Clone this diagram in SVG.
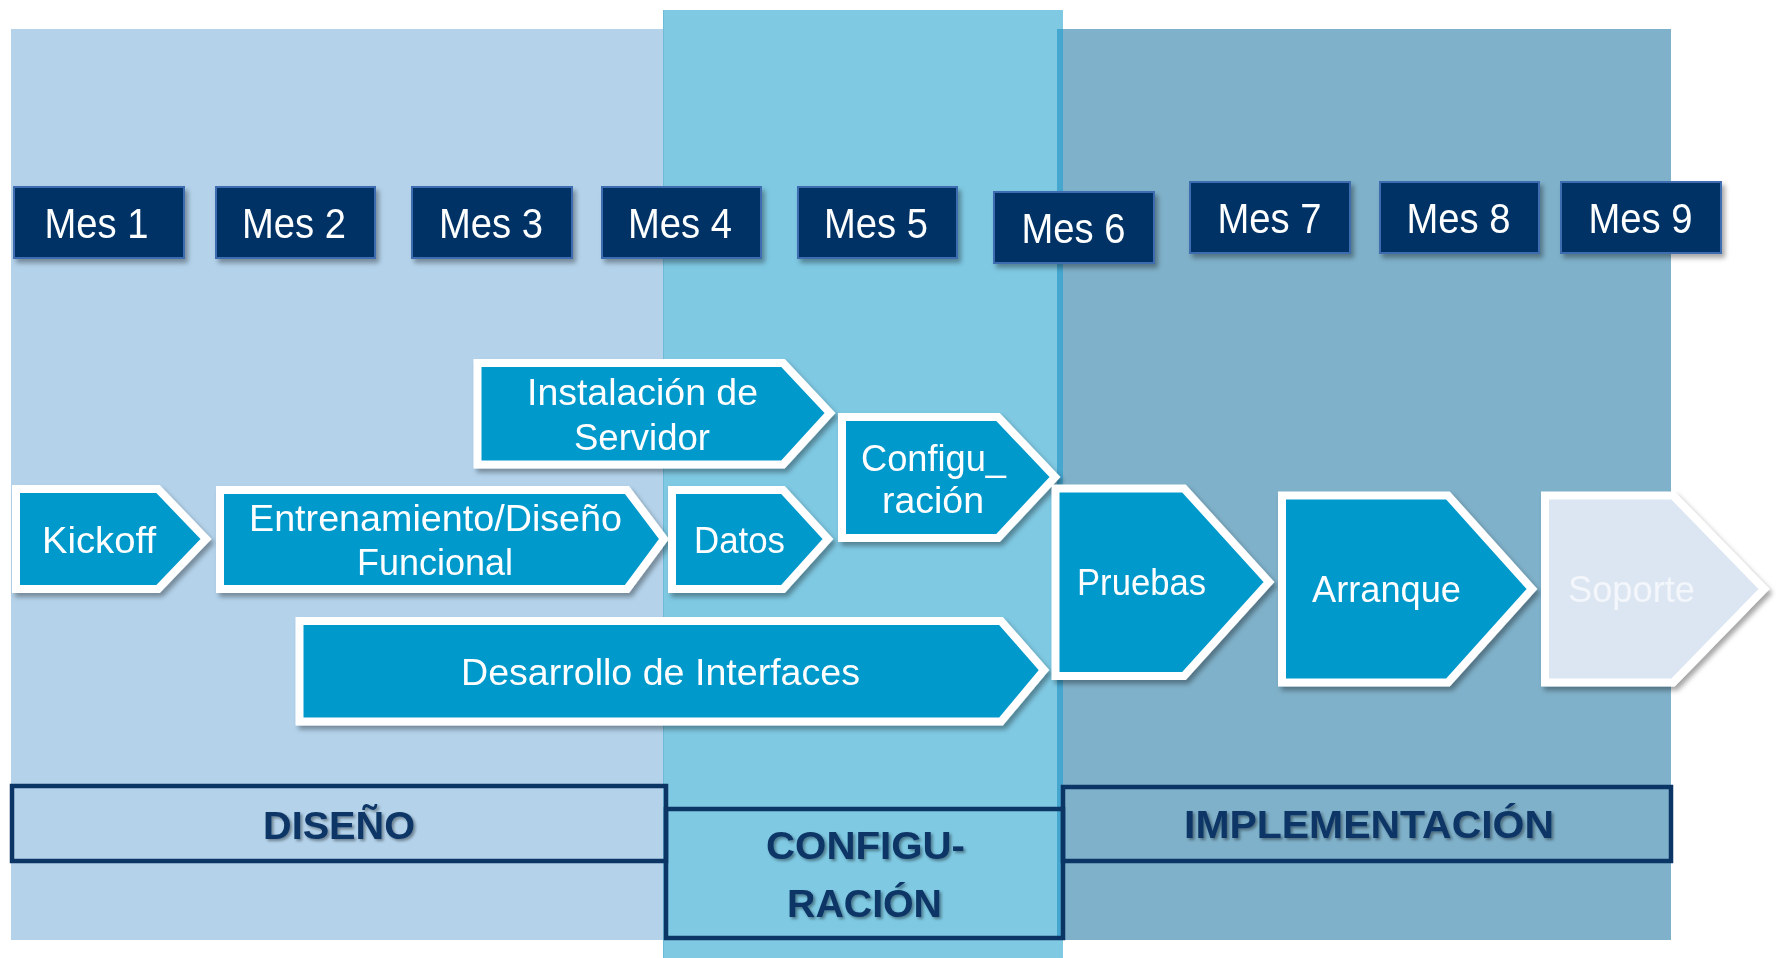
<svg xmlns="http://www.w3.org/2000/svg" width="1776" height="958" viewBox="0 0 1776 958">
<style>
.mes rect{fill:#003366;stroke:#3d6db0;stroke-width:2}
.mes text{font-family:"Liberation Sans",Arial,sans-serif;font-size:43px;fill:#ffffff;text-anchor:middle}
.arr polygon{fill:#0099cc;stroke:#ffffff;stroke-width:8;stroke-linejoin:miter}
.arr text{font-family:"Liberation Sans",Arial,sans-serif;font-size:36px;fill:#ffffff;text-anchor:middle}
.ph rect{fill:none;stroke:#0b3565;stroke-width:4.5}
.ph text{font-family:"Liberation Sans",Arial,sans-serif;font-weight:bold;font-size:39px;fill:#0b3565;text-anchor:middle}
</style>
<defs>
<filter id="sh" x="-10%" y="-10%" width="125%" height="130%">
<feDropShadow dx="3" dy="4" stdDeviation="2.5" flood-color="#000000" flood-opacity="0.35"/>
</filter>
<filter id="tsh" x="-10%" y="-20%" width="125%" height="150%">
<feDropShadow dx="2" dy="2" stdDeviation="1.5" flood-color="#000000" flood-opacity="0.4"/>
</filter>
</defs>
<rect width="1776" height="958" fill="#ffffff"/>
<g id="panels">
<rect x="11" y="29" width="652" height="911" fill="#b4d3eb"/>
<rect x="663" y="10" width="400" height="948" fill="#7fc9e3"/>
<line x1="663.5" y1="10" x2="663.5" y2="958" stroke="#6bbbd9" stroke-width="1"/>
<rect x="1057" y="29" width="614" height="911" fill="#7fb1ca"/>
<rect x="1057" y="29" width="6" height="911" fill="#45a6cf"/>
</g>
<g id="months">
<g id="mes1" class="mes" filter="url(#sh)"><rect x="14" y="187" width="170" height="71"/><text x="96.5" y="238" textLength="104" lengthAdjust="spacingAndGlyphs">Mes 1</text></g>
<g id="mes2" class="mes" filter="url(#sh)"><rect x="216" y="187" width="159" height="71"/><text x="294" y="238" textLength="104" lengthAdjust="spacingAndGlyphs">Mes 2</text></g>
<g id="mes3" class="mes" filter="url(#sh)"><rect x="412" y="187" width="160" height="71"/><text x="491" y="238" textLength="104" lengthAdjust="spacingAndGlyphs">Mes 3</text></g>
<g id="mes4" class="mes" filter="url(#sh)"><rect x="602" y="187" width="159" height="71"/><text x="680" y="238" textLength="104" lengthAdjust="spacingAndGlyphs">Mes 4</text></g>
<g id="mes5" class="mes" filter="url(#sh)"><rect x="798" y="187" width="159" height="71"/><text x="876" y="238" textLength="104" lengthAdjust="spacingAndGlyphs">Mes 5</text></g>
<g id="mes6" class="mes" filter="url(#sh)"><rect x="994" y="192" width="160" height="71"/><text x="1073.5" y="243" textLength="104" lengthAdjust="spacingAndGlyphs">Mes 6</text></g>
<g id="mes7" class="mes" filter="url(#sh)"><rect x="1190" y="182" width="160" height="71"/><text x="1269.5" y="233" textLength="104" lengthAdjust="spacingAndGlyphs">Mes 7</text></g>
<g id="mes8" class="mes" filter="url(#sh)"><rect x="1380" y="182" width="159" height="71"/><text x="1458.5" y="233" textLength="104" lengthAdjust="spacingAndGlyphs">Mes 8</text></g>
<g id="mes9" class="mes" filter="url(#sh)"><rect x="1561" y="182" width="160" height="71"/><text x="1640.5" y="233" textLength="104" lengthAdjust="spacingAndGlyphs">Mes 9</text></g>
</g>
<g id="connectors"></g>
<g id="tasks">
<g id="instalacion" class="arr" filter="url(#sh)"><polygon points="477.5,363 783,363 830,413 783,464.5 477.5,464.5"/><text x="642.5" y="405" textLength="231" lengthAdjust="spacingAndGlyphs">Instalación de</text><text x="642" y="450" textLength="136" lengthAdjust="spacingAndGlyphs">Servidor</text></g>
<g id="configuracion" class="arr" filter="url(#sh)"><polygon points="842,417 998,417 1055,477 998,538 842,538"/><text x="933.5" y="471" textLength="145" lengthAdjust="spacingAndGlyphs">Configu_</text><text x="933" y="513" textLength="102" lengthAdjust="spacingAndGlyphs">ración</text></g>
<g id="kickoff" class="arr" filter="url(#sh)"><polygon points="16,489 158,489 206,539 158,589 16,589"/><text x="99" y="553" textLength="114" lengthAdjust="spacingAndGlyphs">Kickoff</text></g>
<g id="entrenamiento" class="arr" filter="url(#sh)"><polygon points="220,490 627,490 664,539 627,589 220,589"/><text x="435.5" y="531" textLength="373" lengthAdjust="spacingAndGlyphs">Entrenamiento/Diseño</text><text x="435" y="575" textLength="156" lengthAdjust="spacingAndGlyphs">Funcional</text></g>
<g id="datos" class="arr" filter="url(#sh)"><polygon points="672,490 783,490 828,539 783,589 672,589"/><text x="739.5" y="553" textLength="91" lengthAdjust="spacingAndGlyphs">Datos</text></g>
<g id="desarrollo" class="arr" filter="url(#sh)"><polygon points="299.5,621 1001,621 1044,670 1001,721.5 299.5,721.5"/><text x="660.5" y="685" textLength="399" lengthAdjust="spacingAndGlyphs">Desarrollo de Interfaces</text></g>
<g id="pruebas" class="arr" filter="url(#sh)"><polygon points="1055.5,488.5 1184,488.5 1269,582 1184,676 1055.5,676"/><text x="1141.5" y="595" textLength="129" lengthAdjust="spacingAndGlyphs">Pruebas</text></g>
<g id="arranque" class="arr" filter="url(#sh)"><polygon points="1282,495.5 1448,495.5 1532,589 1448,682.5 1282,682.5"/><text x="1386.5" y="602" textLength="149" lengthAdjust="spacingAndGlyphs">Arranque</text></g>
<g id="soporte" class="arr" filter="url(#sh)"><polygon points="1545,495.5 1673,495.5 1764,589 1673,682.5 1545,682.5" style="fill:#dce6f2"/><text x="1631.5" y="602" textLength="127" lengthAdjust="spacingAndGlyphs" style="fill:#f3f6fa">Soporte</text></g>
</g>
<g id="phases">
<g id="diseno" class="ph"><rect x="12" y="786" width="654" height="75"/><text x="339" y="839" textLength="152" lengthAdjust="spacingAndGlyphs" filter="url(#tsh)">DISEÑO</text></g>
<g id="config-phase" class="ph"><rect x="666" y="809" width="397" height="129"/><text x="865.5" y="859" textLength="199" lengthAdjust="spacingAndGlyphs" filter="url(#tsh)">CONFIGU-</text><text x="864.5" y="917" textLength="155" lengthAdjust="spacingAndGlyphs" filter="url(#tsh)">RACIÓN</text></g>
<g id="implementacion" class="ph"><rect x="1063" y="787" width="608" height="74"/><text x="1369" y="838" textLength="370" lengthAdjust="spacingAndGlyphs" filter="url(#tsh)">IMPLEMENTACIÓN</text></g>
</g>
</svg>
